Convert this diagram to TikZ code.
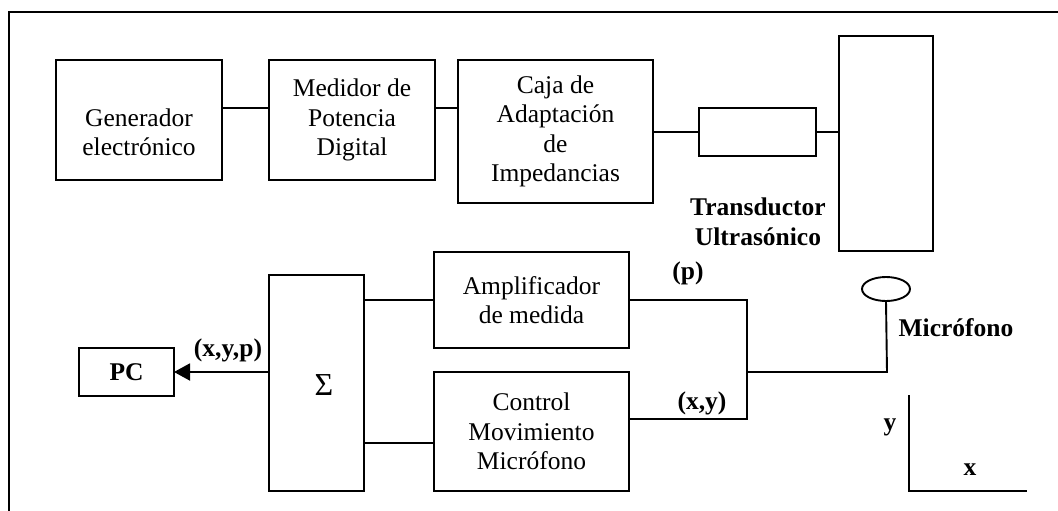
\documentclass[tikz,border=0pt]{standalone}
\usepackage{fontspec}
\setmainfont{Liberation Serif}
\usetikzlibrary{arrows.meta,shapes.geometric}
\begin{document}
\begin{tikzpicture}[x=1pt,y=-1pt,
  line width=1.9pt,
  every node/.style={inner sep=0pt,outer sep=0pt,font=\fontsize{25.5}{29.5}\selectfont},
  blk/.style={draw,line width=1.9pt,rectangle,align=center},
  lbl/.style={font=\fontsize{25.5}{30}\selectfont\bfseries,align=center},
  wire/.style={line width=1.9pt}]
\useasboundingbox (0,0) rectangle (1058,511);
% frame
\draw[line width=2pt] (9,511) -- (9,12) -- (1058,12);
% top row
\node[blk,minimum width=166pt,minimum height=120pt] (gen) at (139,120) {};
\node[align=center] (gentxt) at (139,132.5) {Generador\\electrónico};
\node[blk,minimum width=166pt,minimum height=120pt] (med) at (352,120) {Medidor de\\Potencia\\Digital};
\node[blk,minimum width=195pt,minimum height=143pt] (caja) at (555.5,131.5) {Caja de\\Adaptación\\de\\Impedancias};
\node[blk,minimum width=117pt,minimum height=48pt] (small) at (757.5,132) {};
\node[blk,minimum width=94pt,minimum height=215pt] (trans) at (886,143.5) {};
\node[lbl] (translbl) at (758,222) {Transductor\\Ultrasónico};
\draw[wire] (gen.east |- 0,108) -- (med.west |- 0,108);
\draw[wire] (med.east |- 0,108) -- (caja.west |- 0,108);
\draw[wire] (caja.east |- small.west) -- (small.west);
\draw[wire] (small.east) -- (trans.west |- small.east);
% bottom row
\node[blk,minimum width=95pt,minimum height=48pt,font=\fontsize{25.5}{29.5}\selectfont\bfseries] (pc) at (126.5,372) {PC};
\node[blk,minimum width=95pt,minimum height=216pt] (sum) at (316.5,383) {};
\node[font=\fontsize{32}{36}\selectfont] (sumtxt) at (324,385) {Σ};
\node[blk,minimum width=195pt,minimum height=96pt] (amp) at (531.5,300) {Amplificador\\de medida};
\node[blk,minimum width=195pt,minimum height=119pt] (ctl) at (531.5,431.5) {Control\\Movimiento\\Micrófono};
\draw[-{Triangle[length=16pt,width=17pt]},wire] (sum.west |- pc.east) -- (pc.east);
\node[lbl] (xyp) at (228,350) {(x,y,p)};
\draw[wire] (sum.east |- 0,300) -- (amp.west |- 0,300);
\draw[wire] (sum.east |- 0,443) -- (ctl.west |- 0,443);
\coordinate (j1) at (747,300);
\coordinate (j2) at (747,419);
\coordinate (jm) at (747,372);
\coordinate (mk) at (887,372);
\node[draw,ellipse,minimum width=48pt,minimum height=24pt,line width=1.9pt] (mic) at (886,289) {};
\draw[wire] (amp.east |- j1) -- (j1) -- (j2) -- (ctl.east |- j2);
\draw[wire] (jm) -- (mk) -- (mic.south);
\node[lbl] (plbl) at (688,273) {(p)};
\node[lbl] (xylbl) at (702,403) {(x,y)};
\node[lbl] (miclbl) at (956,328) {Micrófono};
% axes
\coordinate (ax0) at (909,491);
\coordinate (axy) at (909,395);
\coordinate (axx) at (1027,491);
\draw[wire] (axy) -- (ax0) -- (axx);
\node[lbl] (ylbl) at (890,427) {y};
\node[lbl] (xlbl) at (970,470) {x};
\end{tikzpicture}
\end{document}
